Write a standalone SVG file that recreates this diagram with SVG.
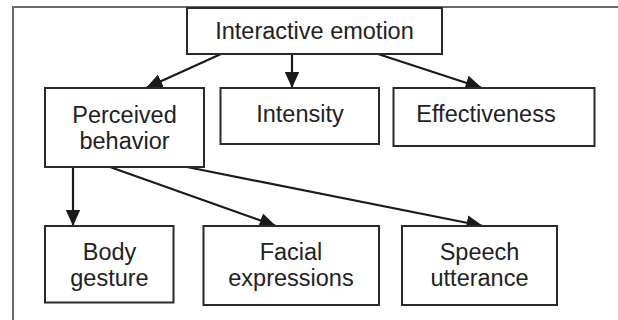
<svg xmlns="http://www.w3.org/2000/svg" width="618" height="320" viewBox="0 0 618 320">
  <defs>
    <style>
      .frame { fill: none; stroke: #6a6a6a; stroke-width: 2; }
      .box { fill: #ffffff; stroke: #2a2a2a; stroke-width: 2; }
      .label { font-family: "Liberation Sans", Arial, sans-serif; font-size: 23.5px; fill: #222222; text-anchor: middle; }
      .edge { fill: none; stroke: #1a1a1a; stroke-width: 2.2; marker-end: url(#head); }
    </style>
    <marker id="head" viewBox="0 0 10 10" refX="10" refY="5" markerWidth="7.5" markerHeight="7.5" markerUnits="strokeWidth" orient="auto">
      <path d="M0,0.5 L10,5 L0,9.5 z" fill="#1a1a1a"/>
    </marker>
  </defs>

  <rect width="618" height="320" fill="#ffffff"/>

  <!-- outer frame (top and left edges) -->
  <path class="frame" d="M13,320 L13,7 L618,7"/>

  <!-- connectors -->
  <g id="connectors">
    <line class="edge" x1="221" y1="54" x2="146" y2="88"/>
    <line class="edge" x1="292" y1="54" x2="292" y2="88"/>
    <line class="edge" x1="378" y1="54" x2="482" y2="88"/>
    <line class="edge" x1="73" y1="167" x2="73" y2="226"/>
    <line class="edge" x1="110" y1="167" x2="276" y2="226"/>
    <line class="edge" x1="187" y1="167" x2="483" y2="226"/>
  </g>

  <g id="interactive-emotion">
    <rect class="box" x="187" y="8" width="255" height="46"/>
    <text class="label" x="314.5" y="39">Interactive emotion</text>
  </g>

  <g id="perceived-behavior">
    <rect class="box" x="45" y="88" width="159" height="79"/>
    <text class="label" x="124.5" y="122.5">Perceived</text>
    <text class="label" x="124.5" y="148.5">behavior</text>
  </g>

  <g id="intensity">
    <rect class="box" x="220.5" y="88" width="158.5" height="56"/>
    <text class="label" x="300" y="122">Intensity</text>
  </g>

  <g id="effectiveness">
    <rect class="box" x="393.5" y="88" width="201" height="58"/>
    <text class="label" x="486" y="122">Effectiveness</text>
  </g>

  <g id="body-gesture">
    <rect class="box" x="45" y="226" width="128.5" height="76.5"/>
    <text class="label" x="109.5" y="260">Body</text>
    <text class="label" x="109.5" y="286">gesture</text>
  </g>

  <g id="facial-expressions">
    <rect class="box" x="203.5" y="226" width="175.5" height="79"/>
    <text class="label" x="291" y="260">Facial</text>
    <text class="label" x="291" y="286">expressions</text>
  </g>

  <g id="speech-utterance">
    <rect class="box" x="402" y="226" width="155" height="79"/>
    <text class="label" x="479.5" y="260">Speech</text>
    <text class="label" x="479.5" y="286">utterance</text>
  </g>
</svg>
